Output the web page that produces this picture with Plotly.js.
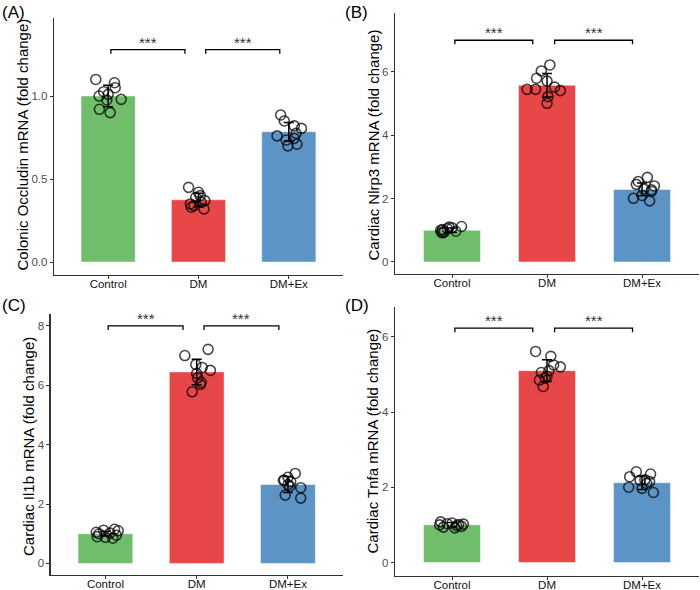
<!DOCTYPE html>
<html>
<head>
<meta charset="utf-8">
<script src="https://cdn.plot.ly/plotly-3.0.1.min.js"></script>
<style>html,body{margin:0;padding:0;background:#fff;} #chart{width:700px;height:590px;}</style>
</head>
<body>
<div id="chart"></div>
<script>
// ---- data ----
const groups = ["Control", "DM", "DM+Ex"];
const panelLabels = ["(A)", "(B)", "(C)", "(D)"];
const yTitles = ["Colonic Occludin mRNA (fold change)", "Cardiac Nlrp3 mRNA (fold change)",
                 "Cardiac Il1b mRNA (fold change)", "Cardiac Tnfa mRNA (fold change)"];

const meansA = [1.0, 0.375, 0.785];
const sdA = [0.065, 0.04, 0.055];
const ctrlA = [1.10, 1.08, 1.026, 1.05, 1.00, 1.01, 0.98, 0.976, 0.92, 0.90];
const dmA = [0.45, 0.42, 0.39, 0.37, 0.35, 0.36, 0.33, 0.32, 0.40, 0.34];
const exA = [0.886, 0.85, 0.82, 0.805, 0.76, 0.775, 0.745, 0.70, 0.71, 0.735];

const meansB = [1.0, 5.58, 2.29];
const sdB = [0.07, 0.37, 0.2];
const ctrlB = [1.12, 1.08, 1.05, 1.02, 1.0, 0.97, 0.95, 0.94, 1.1, 0.92];
const dmB = [6.22, 6.03, 5.8, 5.71, 5.45, 5.45, 5.52, 5.41, 5.22, 5.01];
const exB = [2.67, 2.54, 2.45, 2.40, 2.3, 2.23, 2.01, 2.1, 1.93, 2.28];

const meansC = [1.0, 6.45, 2.66];
const sdC = [0.08, 0.43, 0.27];
const ctrlC = [1.15, 1.12, 1.1, 1.05, 1.02, 1.0, 0.95, 0.9, 0.88, 0.85];
const dmC = [7.21, 7.0, 6.7, 6.6, 6.5, 6.4, 6.25, 6.03, 5.78, 6.1];
const exC = [3.03, 2.9, 2.8, 2.75, 2.6, 2.55, 2.3, 2.2, 2.65, 2.8];

const meansD = [1.0, 5.10, 2.12];
const sdD = [0.06, 0.29, 0.18];
const ctrlD = [1.08, 1.05, 1.03, 1.02, 1.0, 0.98, 0.96, 0.94, 0.92, 1.01];
const dmD = [5.61, 5.48, 5.2, 5.25, 5.05, 5.1, 4.85, 4.68, 4.9, 4.95];
const exD = [2.41, 2.28, 2.35, 2.18, 2.15, 2.0, 1.97, 1.86, 2.1, 2.2];

// horizontal jitter (category units)
const jitA = [[-0.137, 0.07, -0.05, 0.078, -0.10, 0.0, 0.144, -0.015, -0.097, 0.022],
              [-0.11, 0.0, -0.03, 0.07, -0.09, 0.03, -0.08, 0.06, 0.02, -0.05],
              [-0.09, -0.05, 0.06, 0.14, -0.13, 0.08, 0.06, -0.01, 0.09, -0.03]];
const jitB = [[0.1, 0.0, -0.05, -0.1, -0.12, 0.04, -0.08, -0.11, -0.03, -0.1],
              [0.03, -0.06, -0.11, 0.0, -0.21, -0.12, 0.08, 0.14, 0.01, 0.0],
              [0.056, -0.04, -0.06, 0.13, 0.02, 0.1, -0.09, 0.0, 0.08, 0.1]];
const jitC = [[0.1, -0.02, 0.14, -0.1, 0.05, -0.07, 0.12, -0.09, 0.0, 0.08],
              [0.125, -0.13, -0.01, 0.06, 0.15, 0.0, 0.01, 0.04, -0.05, 0.05],
              [0.08, 0.0, -0.05, 0.03, 0.02, 0.14, -0.03, 0.14, 0.0, -0.04]];
const jitD = [[-0.12, 0.0, -0.05, 0.12, -0.13, 0.05, 0.1, -0.09, 0.03, 0.07],
              [-0.12, 0.04, 0.14, 0.07, -0.06, 0.02, -0.08, -0.04, -0.02, 0.0],
              [-0.06, -0.13, 0.09, -0.02, 0.08, -0.14, 0.0, 0.12, 0.05, 0.03]];

const sigLabels = ["***", "***"];
const sigY = [1.28, 7.0, 8.0, 6.23];

// ---- styling ----
const barColors = ["#70BE6B", "#E8474A", "#5C94C6"];
const panels = [
  {means: meansA, sd: sdA, pts: [ctrlA, dmA, exA], jit: jitA, range: [-0.078, 1.47], dtick: 0.5, fmt: ".1f",
   xd: [0.0771, 0.49], yd: [0.5339, 0.9695], tick: 0.025, tx: 22, ty: 144.5},
  {means: meansB, sd: sdB, pts: [ctrlB, dmB, exB], jit: jitB, range: [-0.38, 7.87], dtick: 2, fmt: "d",
   xd: [0.5643, 0.9986], yd: [0.5356, 0.9785], tick: 0.13, tx: 372.5, ty: 145},
  {means: meansC, sd: sdC, pts: [ctrlC, dmC, exC], jit: jitC, range: [-0.39, 8.4], dtick: 2, fmt: "d",
   xd: [0.0724, 0.4896], yd: [0.0254, 0.4678], tick: 0.14, tx: 28, ty: 447},
  {means: meansD, sd: sdD, pts: [ctrlD, dmD, exD], jit: jitD, range: [-0.36, 6.8], dtick: 2, fmt: "d",
   xd: [0.5643, 0.9986], yd: [0.0237, 0.4802], tick: 0.11, tx: 372, ty: 441.5}
];
const labelPos = [[0.0, 0.978], [0.49, 0.978], [0.0, 0.482], [0.49, 0.482]];
const W = 700, H = 590;

const traces = [];
const layout = {
  width: W, height: H, margin: {l: 0, r: 0, t: 0, b: 0},
  paper_bgcolor: "#fff", plot_bgcolor: "#fff", showlegend: false,
  font: {family: "Liberation Sans, Arial, sans-serif", color: "#000"},
  shapes: [], annotations: []
};

panels.forEach((p, i) => {
  const n = i === 0 ? "" : String(i + 1);
  const xa = "x" + n, ya = "y" + n;
  traces.push({
    type: "bar", x: [0, 1, 2], y: p.means, width: 0.6, xaxis: xa, yaxis: ya,
    marker: {color: barColors, line: {color: "rgba(255,255,255,0.6)", width: 0.8}},
    hoverinfo: "skip"
  });
  p.pts.forEach((vals, g) => {
    traces.push({
      type: "scatter", mode: "markers", xaxis: xa, yaxis: ya,
      x: vals.map((v, k) => g + p.jit[g][k]), y: vals,
      marker: {symbol: "circle-open", size: 10, color: "rgba(0,0,0,0.72)", line: {width: 1.6, color: "rgba(0,0,0,0.72)"}},
      hoverinfo: "skip"
    });
  });
  traces.push({
    type: "scatter", mode: "markers", xaxis: xa, yaxis: ya, x: [0, 1, 2], y: p.means,
    marker: {size: 1, color: "rgba(0,0,0,0)"},
    error_y: {type: "data", array: p.sd, visible: true, color: "#000", thickness: 1.5, width: 5},
    hoverinfo: "skip"
  });
  layout["xaxis" + n] = {
    domain: p.xd, anchor: ya, range: [-0.6, 2.6], tickvals: [0, 1, 2], ticktext: groups,
    showline: true, linecolor: "#333", linewidth: 1.2, ticks: "outside", ticklen: 3, tickcolor: "#333",
    showgrid: false, zeroline: false, tickfont: {size: 11.5, color: "#111"}, ticklabelstandoff: -5, fixedrange: true
  };
  layout["yaxis" + n] = {
    domain: p.yd, anchor: xa, range: p.range, dtick: p.dtick, tick0: 0, tickformat: p.fmt,
    showline: true, linecolor: "#333", linewidth: 1.2, ticks: "outside", ticklen: 3, tickcolor: "#333",
    showgrid: false, zeroline: false, tickfont: {size: 11.5, color: "#4d4d4d"}, fixedrange: true
  };
  // y-axis title (placed as rotated text beside the axis)
  layout.annotations.push({
    xref: "paper", yref: "paper", x: p.tx / W, y: 1 - p.ty / H, xanchor: "center", yanchor: "middle",
    text: yTitles[i], textangle: -90, showarrow: false, font: {size: 15, color: "#000"}
  });
  // significance brackets: Control vs DM, DM vs DM+Ex
  const pairs = [[0.03, 0.85], [1.08, 1.9]];
  pairs.forEach((pr, j) => {
    const yb = sigY[i];
    layout.shapes.push({
      type: "path", xref: xa, yref: ya,
      path: `M ${pr[0]} ${yb - p.tick} L ${pr[0]} ${yb} L ${pr[1]} ${yb} L ${pr[1]} ${yb - p.tick}`,
      line: {color: "#000", width: 1.3}
    });
    layout.annotations.push({
      xref: xa, yref: ya, x: (pr[0] + pr[1]) / 2, y: yb, text: sigLabels[j], showarrow: false,
      yanchor: "bottom", yshift: -3, font: {size: 15, color: "#333"}
    });
  });
  layout.annotations.push({
    xref: "paper", yref: "paper", x: labelPos[i][0], y: labelPos[i][1], xanchor: "left", yanchor: "middle",
    text: panelLabels[i], showarrow: false, font: {size: 17, color: "#000"}
  });
});

Plotly.newPlot("chart", traces, layout, {displayModeBar: false, staticPlot: true});
</script>
</body>
</html>
